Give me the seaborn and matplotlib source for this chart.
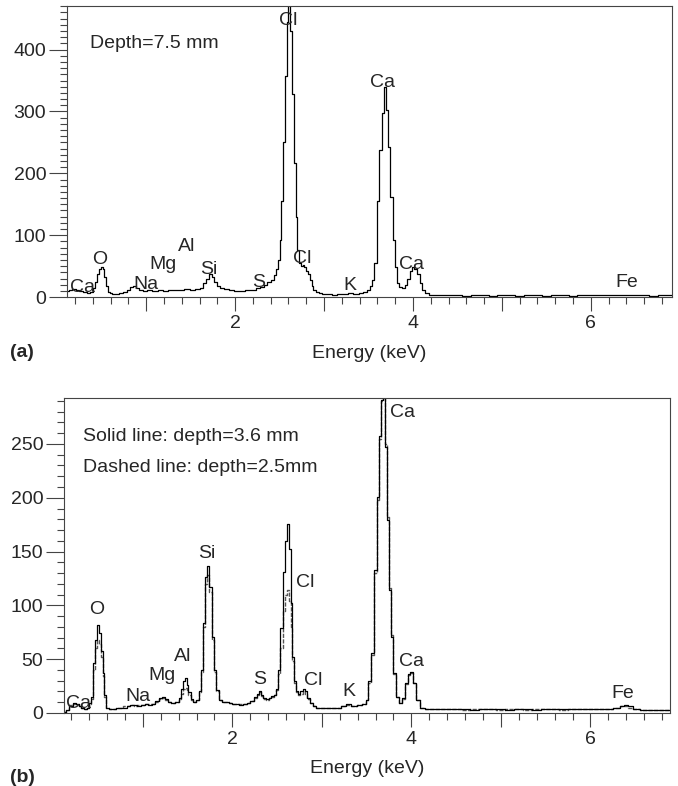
import matplotlib
matplotlib.use("Agg")
import matplotlib.pyplot as plt
import seaborn as sns
import pandas as pd
from matplotlib.ticker import MultipleLocator, FuncFormatter

# ── Spectrum (a): depth 7.5 mm ──────────────────────────────────────────
energy_a = [
    0.11, 0.15, 0.19, 0.23, 0.27, 0.31, 0.35, 0.39, 0.42, 0.44, 0.46, 0.48,
    0.50, 0.52, 0.54, 0.56, 0.58, 0.60, 0.64, 0.68, 0.72, 0.76, 0.80, 0.84,
    0.87, 0.90, 0.94, 0.98, 1.04, 1.10, 1.16, 1.22, 1.28, 1.34, 1.40, 1.46,
    1.52, 1.58, 1.62, 1.66, 1.69, 1.72, 1.75, 1.78, 1.81, 1.85, 1.90, 1.96,
    2.02, 2.08, 2.14, 2.20, 2.26, 2.30, 2.34, 2.38, 2.42, 2.45, 2.47, 2.49,
    2.51, 2.53, 2.55, 2.57, 2.59, 2.61, 2.63, 2.65, 2.67, 2.69, 2.71, 2.73,
    2.75, 2.77, 2.79, 2.81, 2.83, 2.85, 2.87, 2.89, 2.92, 2.96, 3.00, 3.06,
    3.12, 3.18, 3.24, 3.30, 3.36, 3.42, 3.46, 3.50, 3.53, 3.555, 3.58, 3.61,
    3.635, 3.66, 3.685, 3.71, 3.735, 3.76, 3.785, 3.81, 3.835, 3.86, 3.89, 3.92,
    3.95, 3.98, 4.00, 4.03, 4.06, 4.09, 4.12, 4.15, 4.20, 4.30, 4.40, 4.50,
    4.60, 4.70, 4.80, 4.90, 5.00, 5.10, 5.20, 5.30, 5.40, 5.50, 5.60, 5.70,
    5.80, 5.90, 6.00, 6.10, 6.20, 6.30, 6.40, 6.50, 6.60, 6.70, 6.80, 6.91,
]
counts_a = [
    10, 12, 13, 12, 10, 8, 6, 8, 14, 25, 38, 46,
    49, 45, 32, 18, 9, 6, 5, 5, 6, 8, 12, 16,
    18, 15, 12, 10, 11, 10, 11, 10, 11, 12, 12, 13,
    12, 13, 15, 22, 30, 38, 33, 24, 18, 15, 13, 11,
    10, 10, 11, 12, 14, 17, 20, 24, 28, 35, 45, 60,
    92, 156, 250, 358, 444, 490, 430, 329, 216, 129, 76, 55,
    50, 52, 48, 42, 38, 28, 18, 12, 8, 6, 5, 5,
    4, 5, 5, 6, 5, 6, 8, 12, 18, 27, 55, 156,
    237, 298, 339, 302, 242, 162, 92, 48, 22, 16, 14, 20,
    30, 42, 48, 46, 38, 22, 12, 6, 4, 3, 3, 3,
    2, 3, 3, 2, 3, 3, 2, 3, 3, 2, 3, 3,
    2, 3, 3, 3, 3, 4, 4, 3, 3, 2, 3, 3,
]

# ── Spectra (b): solid 3.6 mm, dashed 2.5 mm ────────────────────────────
energy_b = [
    0.12, 0.16, 0.20, 0.24, 0.27, 0.30, 0.33, 0.36, 0.39, 0.41, 0.43, 0.455,
    0.48, 0.505, 0.525, 0.545, 0.56, 0.58, 0.605, 0.64, 0.68, 0.72, 0.76, 0.80,
    0.84, 0.88, 0.92, 0.96, 1.00, 1.04, 1.08, 1.12, 1.16, 1.20, 1.23, 1.26,
    1.30, 1.34, 1.38, 1.42, 1.44, 1.46, 1.48, 1.50, 1.52, 1.55, 1.58, 1.61,
    1.64, 1.66, 1.685, 1.71, 1.735, 1.755, 1.78, 1.80, 1.83, 1.865, 1.90, 1.94,
    1.98, 2.02, 2.06, 2.10, 2.14, 2.18, 2.22, 2.26, 2.29, 2.31, 2.33, 2.36,
    2.39, 2.42, 2.45, 2.48, 2.50, 2.525, 2.55, 2.575, 2.595, 2.62, 2.64, 2.66,
    2.68, 2.70, 2.72, 2.745, 2.77, 2.80, 2.825, 2.85, 2.88, 2.92, 2.96, 3.00,
    3.06, 3.12, 3.18, 3.24, 3.30, 3.36, 3.42, 3.47, 3.505, 3.53, 3.56, 3.60,
    3.625, 3.645, 3.67, 3.695, 3.72, 3.745, 3.765, 3.79, 3.81, 3.84, 3.875, 3.91,
    3.95, 3.975, 4.00, 4.035, 4.075, 4.12, 4.18, 4.30, 4.40, 4.50, 4.60, 4.70,
    4.80, 4.90, 5.00, 5.10, 5.20, 5.30, 5.40, 5.50, 5.60, 5.70, 5.80, 5.90,
    6.00, 6.10, 6.20, 6.30, 6.36, 6.40, 6.44, 6.50, 6.60, 6.70, 6.80, 6.89,
]
counts_solid = [
    1, 3, 6, 9, 8, 6, 5, 4, 5, 9, 15, 46,
    68, 82, 74, 58, 37, 17, 5, 4, 4, 5, 5, 5,
    6, 7, 7, 6, 7, 8, 7, 8, 11, 14, 15, 13,
    10, 9, 10, 14, 22, 30, 32, 26, 19, 13, 10, 12,
    20, 40, 84, 126, 137, 117, 71, 40, 21, 12, 10, 10,
    9, 8, 8, 7, 8, 9, 11, 15, 18, 20, 17, 14,
    13, 14, 16, 17, 22, 40, 79, 131, 160, 176, 152, 102,
    52, 30, 20, 18, 20, 22, 20, 14, 9, 6, 5, 5,
    5, 5, 5, 6, 8, 6, 7, 8, 12, 30, 56, 133,
    201, 257, 291, 300, 247, 179, 114, 71, 37, 15, 9, 14,
    28, 36, 38, 28, 12, 5, 4, 4, 4, 4, 4, 3,
    4, 4, 4, 3, 4, 4, 3, 4, 4, 4, 4, 4,
    4, 4, 4, 5, 6, 7, 6, 4, 3, 3, 3, 3,
]
counts_dashed = [
    1, 3, 7, 8, 8, 6, 5, 4, 5, 8, 13, 40,
    60, 68, 64, 52, 34, 15, 5, 4, 4, 5, 5, 6,
    6, 7, 6, 7, 7, 8, 8, 8, 10, 13, 14, 12,
    10, 9, 10, 13, 18, 22, 23, 21, 17, 12, 10, 12,
    19, 38, 80, 120, 128, 112, 68, 38, 20, 12, 10, 10,
    9, 8, 8, 8, 8, 9, 11, 14, 17, 19, 16, 13,
    12, 14, 15, 17, 21, 36, 60, 95, 110, 114, 104, 80,
    48, 28, 19, 17, 18, 20, 18, 13, 9, 6, 5, 5,
    5, 5, 5, 6, 7, 6, 7, 8, 12, 28, 54, 130,
    198, 255, 290, 296, 250, 182, 116, 72, 36, 15, 9, 13,
    27, 35, 37, 28, 12, 5, 4, 4, 4, 4, 3, 4,
    4, 4, 3, 4, 4, 3, 4, 4, 4, 3, 4, 4,
    4, 4, 4, 5, 6, 6, 5, 4, 3, 3, 3, 3,
]

# Peak labels: (text, energy, counts)
labels_a = [
    ("Ca", 0.28, 16), ("O", 0.48, 61), ("Na", 1.00, 21), ("Mg", 1.19, 52),
    ("Al", 1.46, 82), ("Si", 1.71, 45), ("S", 2.27, 24), ("Cl", 2.60, 447),
    ("Cl", 2.76, 63), ("K", 3.29, 18), ("Ca", 3.66, 347), ("Ca", 3.98, 53),
    ("Fe", 6.40, 23),
]
labels_b = [
    ("Ca", 0.28, 9), ("O", 0.49, 96), ("Na", 0.95, 15), ("Mg", 1.21, 35),
    ("Al", 1.45, 52), ("Si", 1.72, 148), ("S", 2.31, 31), ("Cl", 2.81, 121),
    ("Cl", 2.90, 30), ("K", 3.30, 20), ("Ca", 3.90, 279), ("Ca", 4.00, 48),
    ("Fe", 6.36, 18),
]

sns.set_style("ticks")
plt.rcParams["font.family"] = ["Liberation Sans", "DejaVu Sans"]
FS = 14

SPINE = "#444444"

fig = plt.figure(figsize=(6.78, 7.86), dpi=100)
ax_a = fig.add_axes([0.0988, 0.622, 0.892, 0.370])
ax_b = fig.add_axes([0.0944, 0.093, 0.894, 0.401])


def style_axes(ax, xlim, ylim, ymajor):
    ax.set_xlim(*xlim)
    ax.set_ylim(*ylim)
    ax.xaxis.set_major_locator(MultipleLocator(1))
    ax.xaxis.set_minor_locator(MultipleLocator(0.2))
    ax.xaxis.set_major_formatter(
        FuncFormatter(lambda v, p: f"{int(round(v))}" if round(v) % 2 == 0 else "")
    )
    ax.yaxis.set_major_locator(MultipleLocator(ymajor))
    ax.yaxis.set_minor_locator(MultipleLocator(10))
    ax.tick_params(axis="x", which="major", length=10, width=0.8, color=SPINE,
                   labelsize=FS, pad=3)
    ax.tick_params(axis="x", which="minor", length=5, width=0.8, color=SPINE)
    ax.tick_params(axis="y", which="major", length=13, width=0.8, color=SPINE,
                   labelsize=FS, pad=2)
    ax.tick_params(axis="y", which="minor", length=5, width=0.8, color=SPINE)
    for s in ax.spines.values():
        s.set_color(SPINE)
        s.set_linewidth(0.8)
    ax.set_ylabel("")
    ax.set_xlabel("Energy (keV)", fontsize=FS, labelpad=9)


# ── Panel (a) ──────────────────────────────────────────────────────────
df_a = pd.DataFrame({"energy": energy_a, "counts": counts_a})
sns.lineplot(data=df_a, x="energy", y="counts", ax=ax_a, color="black",
             lw=0.9, drawstyle="steps-mid", estimator=None)
style_axes(ax_a, (0.11, 6.91), (0, 470), 100)
for txt, e, c in labels_a:
    ax_a.text(e, c, txt, ha="center", va="center", fontsize=FS)
ax_a.text(0.37, 410, "Depth=7.5 mm", ha="left", va="center", fontsize=FS)
fig.text(0.015, 0.552, "(a)", fontweight="bold", fontsize=FS, va="center")

# ── Panel (b) ──────────────────────────────────────────────────────────
df_b = pd.DataFrame({"energy": energy_b, "solid": counts_solid,
                     "dashed": counts_dashed})
sns.lineplot(data=df_b, x="energy", y="dashed", ax=ax_b, color="#555555",
             lw=1.0, drawstyle="steps-mid", estimator=None, linestyle=(0, (3, 1)))
sns.lineplot(data=df_b, x="energy", y="solid", ax=ax_b, color="black",
             lw=0.9, drawstyle="steps-mid", estimator=None)
style_axes(ax_b, (0.12, 6.89), (0, 293), 50)
for txt, e, c in labels_b:
    ax_b.text(e, c, txt, ha="center", va="center", fontsize=FS)
ax_b.text(0.33, 257, "Solid line: depth=3.6 mm", ha="left", va="center", fontsize=FS)
ax_b.text(0.33, 228, "Dashed line: depth=2.5mm", ha="left", va="center", fontsize=FS)
fig.text(0.015, 0.0102, "(b)", fontweight="bold", fontsize=FS, va="center")

fig.savefig("out.png", dpi=100)
plt.close(fig)
